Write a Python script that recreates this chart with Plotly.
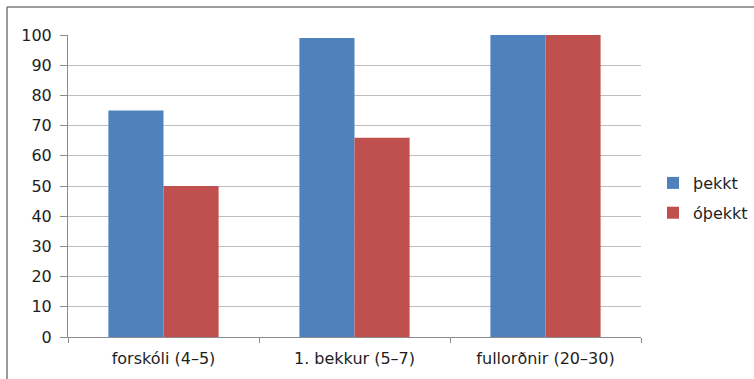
import plotly.graph_objects as go

# Age groups and the share (%) for each condition
categories = ["forskóli (4–5)", "1. bekkur (5–7)", "fullorðnir (20–30)"]
known = [75, 99, 100]
unknown = [50, 66, 100]
y_ticks = [0, 10, 20, 30, 40, 50, 60, 70, 80, 90, 100]

W, H = 754, 379
L, R, T, B = 68, 113, 35, 42
plot_w = W - L - R
plot_h = H - T - B

fig = go.Figure()
fig.add_trace(go.Bar(name="þekkt", x=categories, y=known, legendgroup="a",
                     marker=dict(color="#4F81BD", line=dict(width=0))))
fig.add_trace(go.Bar(name="óþekkt", x=categories, y=unknown, legendgroup="b",
                     marker=dict(color="#C0504D", line=dict(width=0))))

font = dict(family="DejaVu Sans, sans-serif", size=16, color="#1E1E1E")

fig.update_layout(
    width=W, height=H,
    margin=dict(l=L, r=R, t=T, b=B, pad=0, autoexpand=False),
    paper_bgcolor="white", plot_bgcolor="white",
    barmode="group", bargap=0.423, bargroupgap=0,
    font=font,
    showlegend=True,
    legend=dict(xref="container", yref="container", x=653 / W, y=1 - 198 / H,
                xanchor="left", yanchor="middle",
                font=dict(size=16, color="#1E1E1E"), traceorder="grouped", tracegroupgap=6,
                itemwidth=30, bgcolor="rgba(0,0,0,0)"),
    xaxis=dict(type="category", showgrid=False, showline=True, linecolor="#8C8C8C", linewidth=1,
               ticks="outside", ticklen=5, tickcolor="#8C8C8C", tickson="boundaries",
               tickfont=font, fixedrange=True, ticklabelstandoff=7),
    yaxis=dict(range=[0, 100], tickvals=y_ticks, showgrid=True, gridcolor="#BEBEBE", gridwidth=1,
               showline=True, linecolor="#8C8C8C", linewidth=1, ticks="outside", ticklen=7,
               tickcolor="#8C8C8C", tickfont=font, zeroline=False, fixedrange=True, ticklabelstandoff=5),
    shapes=[
        dict(type="line", xref="paper", yref="paper", x0=(7 - L) / plot_w, x1=(W + 5 - L) / plot_w,
             y0=(T + plot_h - 7) / plot_h, y1=(T + plot_h - 7) / plot_h,
             line=dict(color="#7A7A7A", width=1.5)),
        dict(type="line", xref="paper", yref="paper", x0=(7 - L) / plot_w, x1=(7 - L) / plot_w,
             y0=(T + plot_h - 7) / plot_h, y1=(T + plot_h - H - 5) / plot_h,
             line=dict(color="#7A7A7A", width=1.5)),
    ],
)

fig.write_html("out.html")
